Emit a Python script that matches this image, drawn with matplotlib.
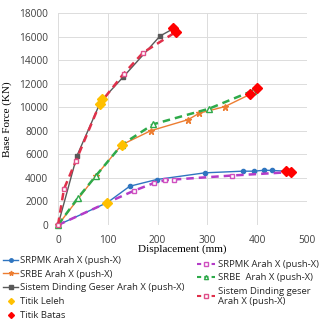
import matplotlib
matplotlib.use("Agg")
import matplotlib.pyplot as plt
from matplotlib.lines import Line2D

# SRPMK (solid)
srpmk_x = [0, 99, 144, 198, 295, 371, 394, 414, 430, 463]
srpmk_y = [0, 1900, 3290, 3860, 4430, 4570, 4570, 4650, 4630, 4560]
# SRPMK (dashed)
srpmk2_x = [0, 99, 152, 193, 215, 232, 349, 463]
srpmk2_y = [0, 1900, 2900, 3570, 3800, 3860, 4200, 4480]
# SRBE (solid)
srbe_x = [0, 76, 128, 186, 261, 284, 335, 386]
srbe_y = [0, 4170, 6810, 8000, 8940, 9500, 10050, 11100]
# SRBE (dashed)
srbe2_x = [0, 40, 76, 128, 191, 303, 391]
srbe2_y = [0, 2300, 4170, 6810, 8550, 9870, 11400]
# Sistem Dinding Geser (solid)
sdg_x = [0, 38, 86, 131, 205, 233]
sdg_y = [0, 5870, 10500, 12570, 16050, 16700]
# Sistem Dinding geser (dashed)
sdg2_x = [0, 12, 36, 84, 132, 171, 237]
sdg2_y = [0, 3060, 5450, 10300, 12850, 14640, 16400]
# Titik Leleh
leleh_x = [99, 128, 84, 88]
leleh_y = [1900, 6810, 10300, 10720]
# Titik Batas
batas_x = [458, 468, 386, 399, 230, 237]
batas_y = [4570, 4510, 11150, 11620, 16740, 16370]

xticks = [0, 100, 200, 300, 400, 500]
yticks = list(range(0, 18001, 2000))

labels_left = ["SRPMK Arah X (push-X)", "SRBE Arah X (push-X)",
               "Sistem Dinding Geser Arah X (push-X)", "Titik Leleh", "Titik Batas"]
labels_right = ["SRPMK Arah X (push-X)", "SRBE  Arah X (push-X)",
                "Sistem Dinding geser\nArah X (push-X)"]

fig = plt.figure(figsize=(3.26, 3.26), dpi=100)
ax = fig.add_axes([58/326, 1-225/326, 249/326, 212/326])

c_blue = "#2f75c0"
c_orange = "#ed7d31"
c_gray = "#595959"
c_yellow = "#ffc000"
c_red = "#ff0000"
c_mag = "#b43cc8"
c_green = "#2eaa4a"
c_pink = "#e0304a"
dash = (0, (3, 2))

ax.plot(srpmk_x, srpmk_y, color=c_blue, lw=1.0, marker="o", ms=3, clip_on=False)
ax.plot(srbe_x, srbe_y, color=c_orange, lw=1.0, marker="*", ms=4.5, clip_on=False)
ax.plot(sdg_x, sdg_y, color=c_gray, lw=1.0, marker="s", ms=3, clip_on=False)
ax.plot(srpmk2_x, srpmk2_y, color=c_mag, lw=1.8, ls=dash, marker="s", ms=3.5, mfc="white", mec="#d050c0", clip_on=False)
ax.plot(srbe2_x, srbe2_y, color=c_green, lw=1.8, ls=dash, marker="^", ms=3.8, mfc="white", mec=c_green, clip_on=False)
ax.plot(sdg2_x, sdg2_y, color=c_pink, lw=1.8, ls=dash, marker="s", ms=3.5, mfc="white", mec="#e0508a", clip_on=False)
ax.plot(leleh_x, leleh_y, ls="none", marker="D", ms=5, color=c_yellow, clip_on=False, zorder=5)
ax.plot(batas_x, batas_y, ls="none", marker="D", ms=5, color=c_red, clip_on=False, zorder=5)

ax.set_xlim(0, 500)
ax.set_ylim(0, 18000)
ax.set_xticks(xticks)
ax.set_yticks(yticks)
ax.grid(True, color="#dcdcdc", lw=0.7)
ax.set_axisbelow(True)
for s in ax.spines.values():
    s.set_visible(False)
ax.tick_params(axis="y", length=0, labelsize=7.3, colors="#404040", pad=7)
ax.tick_params(axis="x", length=0, labelsize=7.3, colors="#404040", pad=7)
for t in ax.get_xticklabels() + ax.get_yticklabels():
    t.set_fontfamily("Open Sans")

ax.set_xlabel("Displacement (mm)", family="Liberation Serif", fontsize=8, labelpad=-1)
ax.set_ylabel("Base Force (KN)", family="Liberation Serif", fontsize=8, labelpad=5)

h_left = [
    Line2D([], [], color=c_blue, lw=1.0, marker="o", ms=2.5),
    Line2D([], [], color=c_orange, lw=1.0, marker="*", ms=3.5),
    Line2D([], [], color=c_gray, lw=1.0, marker="s", ms=2.5),
    Line2D([], [], ls="none", color=c_yellow, marker="D", ms=3),
    Line2D([], [], ls="none", color=c_red, marker="D", ms=3),
]
h_right = [
    Line2D([], [], color=c_mag, lw=1.5, ls=(0, (2, 1.5)), marker="s", ms=3, mfc="white", mec="#d050c0"),
    Line2D([], [], color=c_green, lw=1.5, ls=(0, (2, 1.5)), marker="^", ms=3, mfc="white", mec=c_green),
    Line2D([], [], color=c_pink, lw=1.5, ls=(0, (2, 1.5)), marker="s", ms=3, mfc="white", mec="#e0508a"),
]
prop = {"family": "Open Sans", "size": 6.8}
leg1 = fig.legend(handles=h_left, labels=labels_left, loc="upper left",
                  bbox_to_anchor=(3/326, 1-256/326), frameon=False, prop=prop,
                  handlelength=1.6, handletextpad=0.25, labelspacing=0.5,
                  borderaxespad=0, borderpad=0)
leg2 = fig.legend(handles=h_right, labels=labels_right, loc="upper left",
                  bbox_to_anchor=(197/326, 1-260/326), frameon=False, prop=prop,
                  handlelength=1.9, handletextpad=0.3, labelspacing=0.45,
                  borderaxespad=0, borderpad=0)
for lg in (leg1, leg2):
    for t in lg.get_texts():
        t.set_color("#262626")

fig.savefig("out.png", dpi=100)
